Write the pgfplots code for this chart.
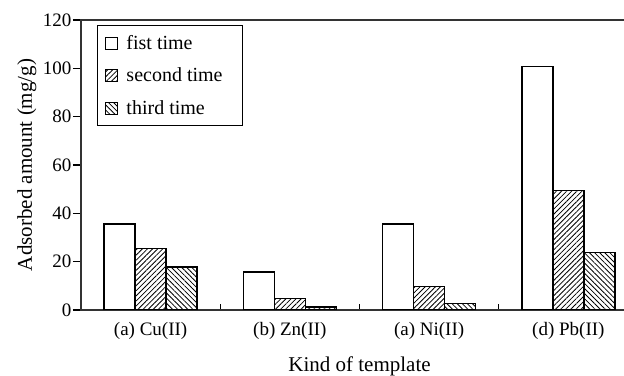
\documentclass[border=0pt]{standalone}
\usepackage{pgfplots}
\pgfplotsset{compat=1.18}
\usepackage{fontspec}
\setmainfont{Liberation Serif}
\usetikzlibrary{patterns.meta}
\begin{document}
\begin{tikzpicture}
\begin{axis}[name=ax,
  scale only axis, width=557pt, height=290pt,
  xmin=-0.5, xmax=3.5, ymin=0, ymax=120,
  ybar=0pt, bar width=31pt,
  axis line style={line width=1.3pt, black!80},
  xtick={0,1,2,3},
  xticklabels={(a) Cu(II),(b) Zn(II),(a) Ni(II),(d) Pb(II)},
  major x tick style={draw=none},
  minor xtick={0.5,1.5,2.5},
  minor tick length=6pt,
  minor x tick style={line width=1.2pt, black},
  xtick align=inside,
  xtick pos=bottom,
  ytick={0,20,...,120},
  ytick pos=left,
  ytick align=outside,
  major tick length=8pt,
  major y tick style={line width=1.2pt, black},
  /pgf/number format/assume math mode=true,
  tick label style={font=\fontsize{19}{22}\selectfont},
  xticklabel style={yshift=-9pt},
  yticklabel style={xshift=2pt},
  xlabel={Kind of template},
  ylabel={Adsorbed amount (mg/g)},
  label style={font=\fontsize{21}{25}\selectfont},
  xlabel style={at={(axis description cs:0.5,-0.196)}, anchor=center},
  ylabel style={at={(axis description cs:-0.097,0.5)}, anchor=center, rotate=0},
  legend style={at={(rel axis cs:0.0287,0.983)}, anchor=north west,
    draw=black, line width=1pt, font=\fontsize{20}{24}\selectfont,
    row sep=13pt, column sep=6pt, inner xsep=8pt, inner ysep=8pt,
    legend cell align=left},
  legend image code/.code={\draw[#1, line width=1pt] (0pt,-6pt) rectangle (12pt,6pt);},
]
\addplot[draw=black, fill=white, line width=1.3pt]
  coordinates {(0,35.6) (1,15.7) (2,35.6) (3,100.7)};
\addplot[draw=black, line width=1.3pt,
  pattern={Lines[angle=45,distance=3.6pt,line width=0.8pt]}, pattern color=black]
  coordinates {(0,25.5) (1,4.7) (2,9.8) (3,49.5)};
\addplot[draw=black, line width=1.3pt,
  pattern={Lines[angle=-45,distance=3.6pt,line width=0.8pt]}, pattern color=black]
  coordinates {(0,17.8) (1,1.2) (2,2.6) (3,23.9)};
\legend{\makebox[106pt][l]{fist time}, \makebox[106pt][l]{second time}, \makebox[106pt][l]{third time}}
\end{axis}
\pgfresetboundingbox
\path[use as bounding box] ([xshift=-81pt,yshift=-66pt]ax.south west) rectangle ([xshift=543pt,yshift=20pt]ax.north west);
\end{tikzpicture}
\end{document}
